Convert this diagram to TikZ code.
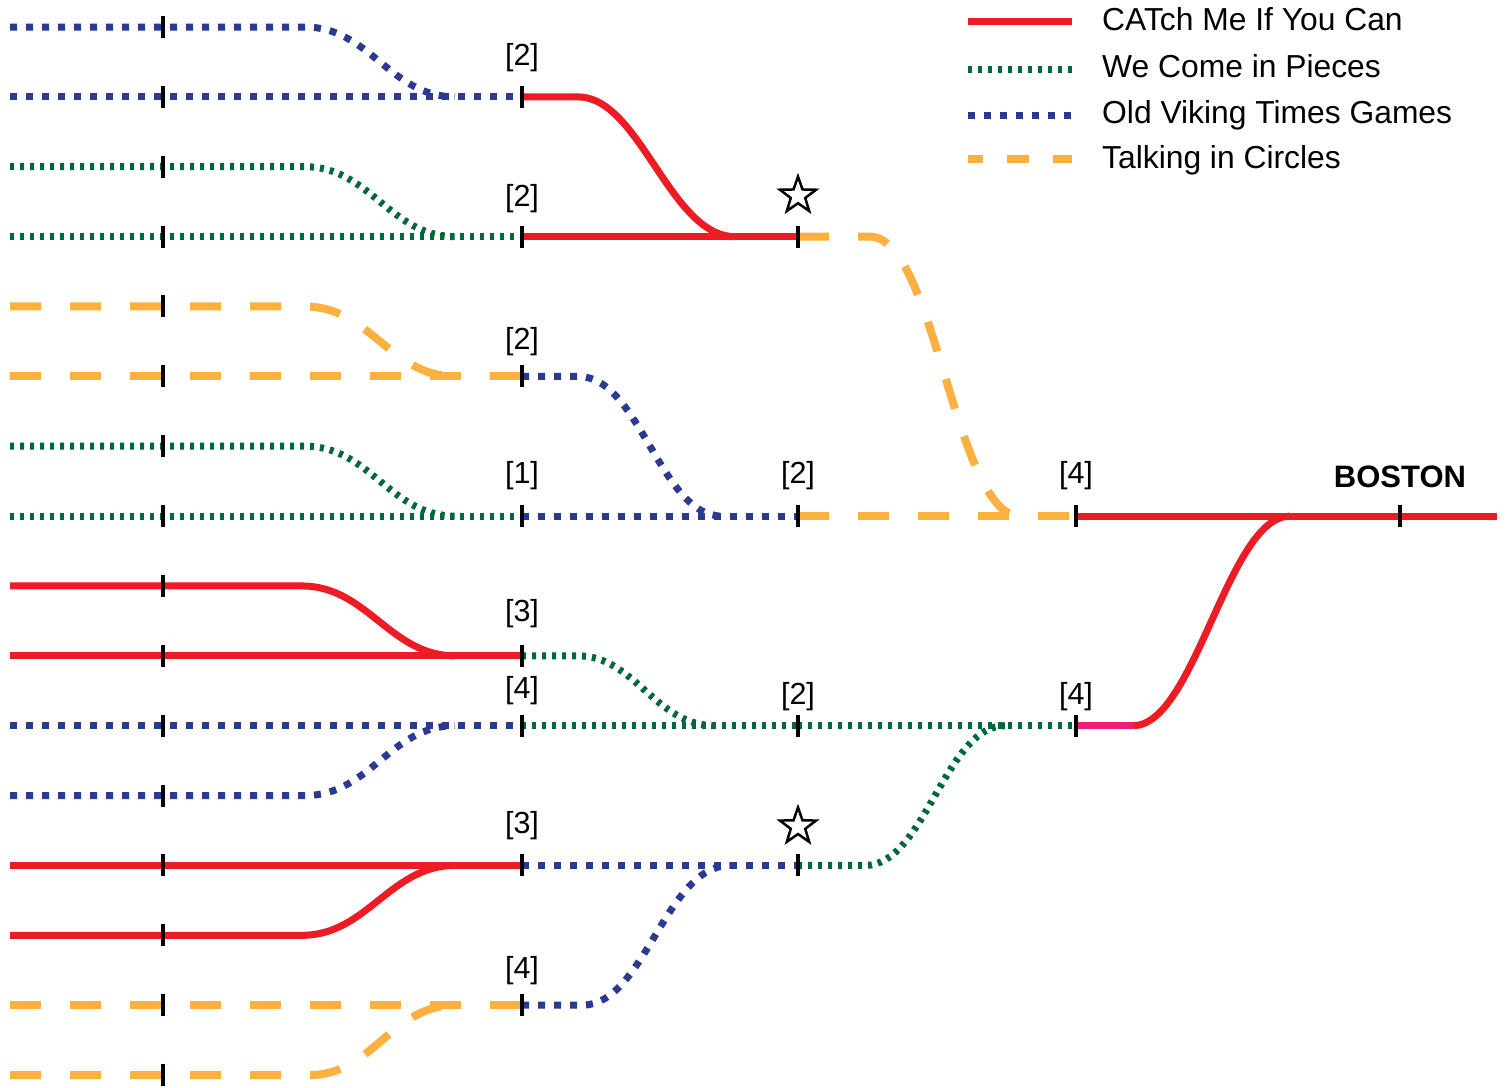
\documentclass[tikz,border=0pt]{standalone}
\usepackage{fontspec}
\setmainfont{Liberation Sans}
\usetikzlibrary{shapes.geometric}
\definecolor{cred}{RGB}{237,28,36}
\definecolor{cgreen}{RGB}{0,104,56}
\definecolor{cblue}{RGB}{43,57,144}
\definecolor{corange}{RGB}{251,176,64}
\definecolor{cpink}{RGB}{237,30,121}
\begin{document}
\begin{tikzpicture}[x=1pt,y=-69.87pt,
  redl/.style={cred,line width=7pt},
  greenl/.style={cgreen,line width=7pt,dash pattern=on 4pt off 6pt},
  bluel/.style={cblue,line width=7pt,dash pattern=on 7pt off 9pt},
  orangel/.style={corange,line width=8pt,dash pattern=on 31pt off 29pt},
  orangeleg/.style={corange,line width=8pt,dash pattern=on 22pt off 24pt,dash phase=7pt},
  pinkl/.style={cpink,line width=7pt},
  tickm/.style={black,line width=4.5pt},
  seed/.style={font=\fontsize{30.5}{30.5}\selectfont,inner sep=0pt},
  legtext/.style={font=\fontsize{31.8}{31.8}\selectfont,inner sep=0pt,anchor=base west},
  starm/.style={star,star points=5,star point ratio=2.5,minimum size=38pt,inner sep=0pt,draw=black,line width=2.5pt},
]
\useasboundingbox (0,-0.38643) rectangle (1508,15.17143);
\foreach \i in {1,...,16}{
  \pgfmathsetmacro\r{\i-1}
  \coordinate (S\i) at (10,\r);
  \coordinate (A\i) at (163,\r);
  \coordinate (B\i) at (522,\r);
  \coordinate (C\i) at (798,\r);
  \coordinate (D\i) at (1076,\r);
}
\coordinate (E8) at (1497,7);
\coordinate (F8) at (1400,7);

% round 1
\draw[bluel]   (S1) -- (305,0) .. controls (370,0) and (390,1) .. (455,1);
\draw[bluel]   (S2) -- (B2);
\draw[greenl]  (S3) -- (305,2) .. controls (370,2) and (390,3) .. (455,3);
\draw[greenl]  (S4) -- (B4);
\draw[orangel] (S5) -- (305,4) .. controls (370,4) and (390,5) .. (455,5);
\draw[orangel] (S6) -- (B6);
\draw[greenl]  (S7) -- (305,6) .. controls (370,6) and (390,7) .. (455,7);
\draw[greenl]  (S8) -- (B8);
\draw[redl]    (S9) -- (302,8) .. controls (367,8) and (390,9) .. (455,9);
\draw[redl]    (S10) -- (B10);
\draw[bluel]   (S11) -- (B11);
\draw[bluel]   (S12) -- (305,11) .. controls (370,11) and (390,10) .. (455,10);
\draw[redl]    (S13) -- (B13);
\draw[redl]    (S14) -- (302,13) .. controls (367,13) and (390,12) .. (455,12);
\draw[orangel] (S15) -- (B15);
\draw[orangel] (S16) -- (310,15) .. controls (372,15) and (392,14) .. (455,14);

% round 2
\draw[redl]    (B2) -- (578,1) .. controls (640,1) and (670,3) .. (735,3);
\draw[redl]    (B4) -- (C4);
\draw[bluel]   (B6) -- (578,5) .. controls (640,5) and (660,7) .. (722,7);
\draw[bluel]   (B8) -- (C8);
\draw[greenl]  (B10) -- (578,9) .. controls (635,9) and (655,10) .. (715,10);
\draw[greenl]  (B11) -- (C11);
\draw[bluel]   (B13) -- (C13);
\draw[bluel]   (B15) -- (582,14) .. controls (645,14) and (665,12) .. (730,12);

% round 3
\draw[orangel] (C4) -- (870,3) .. controls (935,3) and (955,7) .. (1020,7);
\draw[orangel] (C8) -- (D8);
\draw[greenl]  (C11) -- (D11);
\draw[greenl]  (C13) -- (865,12) .. controls (925,12) and (945,10) .. (1005,10);

% final
\draw[redl]  (D8) -- (E8);
\coordinate (P11) at (1133,10);
\draw[pinkl] (D11) -- (P11);
\draw[redl]  (P11) .. controls (1195,10) and (1228,7) .. (1290,7);

% ticks
\foreach \i in {1,...,16} \draw[tickm] ([yshift=11pt]A\i) -- ([yshift=-11pt]A\i);
\foreach \n in {B2,B4,B6,B8,B10,B11,B13,B15,C4,C8,C11,C13,D8,D11,F8}
  \draw[tickm] ([yshift=11pt]\n) -- ([yshift=-11pt]\n);

% seed labels
\node[seed] (lB2)  at ([yshift=39.5pt]B2)  {[2]};
\node[seed] (lB4)  at ([yshift=37.5pt]B4)  {[2]};
\node[seed] (lB6)  at ([yshift=35pt]B6)    {[2]};
\node[seed] (lB8)  at ([yshift=40.5pt]B8)  {[1]};
\node[seed] (lB10) at ([yshift=42pt]B10)   {[3]};
\node[seed] (lB11) at ([yshift=35pt]B11)   {[4]};
\node[seed] (lB13) at ([yshift=39.5pt]B13) {[3]};
\node[seed] (lB15) at ([yshift=34.5pt]B15) {[4]};
\node[seed] (lC8)  at ([yshift=40.5pt]C8)  {[2]};
\node[seed] (lC11) at ([yshift=29.5pt]C11) {[2]};
\node[seed] (lD8)  at ([yshift=40.5pt]D8)  {[4]};
\node[seed] (lD11) at ([yshift=29.5pt]D11) {[4]};
\node[starm] (st1) at ([yshift=41pt]C4) {};
\node[starm] (st2) at ([yshift=39pt]C13) {};
\node[font=\bfseries\fontsize{31}{31}\selectfont,inner sep=0pt] (boston) at ([yshift=39pt]F8) {BOSTON};

% legend
\coordinate (La1) at (968,-0.0859);  \coordinate (Lb1) at (1072,-0.0859);
\coordinate (La2) at (968,0.6011);   \coordinate (Lb2) at (1072,0.6011);
\coordinate (La3) at (968,1.2595);   \coordinate (Lb3) at (1072,1.2595);
\coordinate (La4) at (968,1.8892);   \coordinate (Lb4) at (1072,1.8892);
\draw[redl] (La1) -- (Lb1);
\draw[greenl] (La2) -- (Lb2);
\draw[bluel] (La3) -- (Lb3);
\draw[orangeleg] (La4) -- (Lb4);
\node[legtext] (t1) at (1102,0.0429) {CATch Me If You Can};
\node[legtext] (t2) at (1102,0.7156) {We Come in Pieces};
\node[legtext] (t3) at (1102,1.3740) {Old Viking Times Games};
\node[legtext] (t4) at (1102,2.0180) {Talking in Circles};
\end{tikzpicture}
\end{document}
